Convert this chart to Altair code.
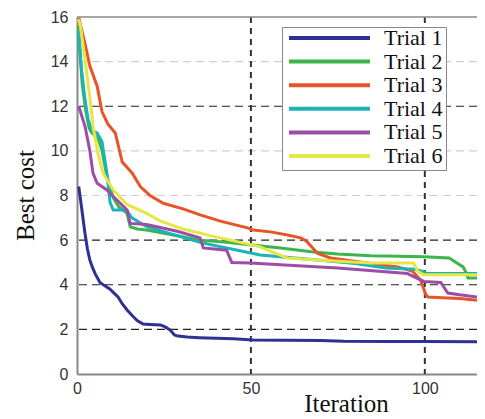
import altair as alt
import pandas as pd

# ---- data ----
trials = ["Trial 1", "Trial 2", "Trial 3", "Trial 4", "Trial 5", "Trial 6"]
colors = ["#2e3192", "#3cb64a", "#e8542a", "#1ab3b8", "#9c4ea6", "#e6e645"]

t1_x = [0.5, 1.2, 2.3, 3, 3.7, 4.4, 5.2, 6.6, 8, 9.5, 10.5, 11.8, 13, 14.4, 16, 17.3, 19, 21, 24, 25.5, 26.8, 28, 29, 31.7, 35, 40, 45, 50.7, 60, 70, 76.7, 90, 100, 115]
t1_y = [8.4, 7.6, 6.3, 5.6, 5.1, 4.8, 4.5, 4.1, 3.95, 3.8, 3.65, 3.45, 3.15, 2.87, 2.6, 2.4, 2.24, 2.22, 2.2, 2.1, 1.97, 1.75, 1.7, 1.66, 1.63, 1.6, 1.58, 1.52, 1.51, 1.5, 1.47, 1.46, 1.46, 1.45]

t2_x = [0.3, 1.5, 2.5, 3.5, 4.3, 6, 7.2, 8.6, 9.5, 10.4, 12, 14.4, 15.3, 17.3, 20, 28.8, 35.4, 43, 49, 58.5, 68, 74.9, 84.4, 99.7, 107, 109, 111, 112, 112.4, 115]
t2_y = [15.6, 13.0, 11.8, 11.0, 10.8, 10.6, 10.0, 8.85, 8.4, 7.9, 7.5, 7.2, 6.6, 6.5, 6.45, 6.2, 6.0, 5.9, 5.8, 5.65, 5.47, 5.38, 5.3, 5.25, 5.2, 5.0, 4.8, 4.5, 4.3, 4.3]

t3_x = [0.5, 2.3, 3.7, 5.8, 7.2, 8.9, 11, 13, 15.9, 18.2, 21, 24.8, 30.5, 35.4, 41.2, 49, 50.7, 55.6, 60.5, 64.3, 66, 69.2, 72.9, 82.4, 92.2, 96.5, 98.8, 100.3, 100.9, 105, 110, 115]
t3_y = [15.96, 14.8, 13.8, 12.9, 11.75, 11.2, 10.8, 9.5, 9.0, 8.4, 8.0, 7.65, 7.4, 7.13, 6.85, 6.55, 6.45, 6.37, 6.23, 6.1, 5.95, 5.4, 5.2, 5.0, 4.8, 4.6, 4.2, 3.55, 3.45, 3.42, 3.38, 3.3]

t4_x = [0.5, 1.2, 2.2, 3.2, 4.3, 5.8, 7.2, 8.6, 9.5, 10.4, 13.3, 14.4, 15.8, 20, 28.8, 35.4, 43, 52.7, 58.5, 70, 80, 88.8, 97, 99.5, 100.5, 115]
t4_y = [15.4, 13.8, 12.4, 11.4, 10.9, 10.8, 10.4, 9.0, 7.7, 7.35, 7.35, 7.3, 7.0, 6.6, 6.2, 5.9, 5.65, 5.33, 5.25, 5.1, 4.95, 4.75, 4.7, 4.6, 4.5, 4.5]

t5_x = [0.5, 2.3, 3.7, 4.6, 5.8, 8.6, 9.5, 14.4, 15.3, 20, 28.8, 35.4, 36.3, 43, 44.5, 49.9, 58.5, 74.9, 95, 99.7, 104.6, 106.6, 110, 115]
t5_y = [12.0, 11.1, 10.0, 9.0, 8.55, 8.25, 8.1, 7.35, 6.75, 6.7, 6.4, 6.1, 5.65, 5.55, 5.0, 4.97, 4.9, 4.75, 4.5, 4.15, 4.1, 3.63, 3.55, 3.45]

t6_x = [0.3, 0.9, 2.3, 3.7, 4.6, 6, 7.5, 10.4, 14.4, 20, 24, 30.5, 38.3, 47, 52.7, 55.6, 60.5, 70, 84.4, 96.8, 98, 99.7, 115]
t6_y = [15.9, 15.7, 14.1, 12.4, 11.1, 9.9, 9.0, 8.25, 7.6, 7.2, 6.85, 6.5, 6.2, 5.9, 5.7, 5.5, 5.2, 5.1, 4.97, 4.97, 4.6, 4.45, 4.45]

y_ticks = [0, 2, 4, 6, 8, 10, 12, 14, 16]
x_ticks = [0, 50, 100]
grid_dark_y = [2, 4, 6, 12]
grid_light_y = [8, 10, 14]
grid_x = [50, 100]
top_y = [16]

series = [(t1_x, t1_y), (t2_x, t2_y), (t3_x, t3_y), (t4_x, t4_y), (t5_x, t5_y), (t6_x, t6_y)]
rows = []
for k, (xs, ys) in enumerate(series):
    for i, (a, b) in enumerate(zip(xs, ys)):
        rows.append({"trial": trials[k], "order": k, "i": i, "iteration": a, "cost": b})
df = pd.DataFrame(rows)

xscale = alt.Scale(domain=[0, 115], nice=False, zero=False)
yscale = alt.Scale(domain=[0, 16], nice=False)

gdark = alt.Chart(pd.DataFrame({"v": grid_dark_y})).mark_rule(
    color="#222", strokeWidth=1.2, strokeDash=[8, 5]).encode(y=alt.Y("v:Q", scale=yscale))
glight = alt.Chart(pd.DataFrame({"v": grid_light_y})).mark_rule(
    color="#cfcfcf", strokeWidth=1.2, strokeDash=[8, 5]).encode(y=alt.Y("v:Q", scale=yscale))
gx = alt.Chart(pd.DataFrame({"v": grid_x})).mark_rule(
    color="#333", strokeWidth=2, strokeDash=[6, 5]).encode(x=alt.X("v:Q", scale=xscale))
top = alt.Chart(pd.DataFrame({"v": top_y})).mark_rule(
    color="#888", strokeWidth=1.5).encode(y=alt.Y("v:Q", scale=yscale))

lines = alt.Chart(df).mark_line(strokeWidth=3, clip=True).encode(
    x=alt.X("iteration:Q", scale=xscale,
            axis=alt.Axis(values=x_ticks, title="Iteration", grid=False, ticks=False,
                          labelFlush=False, labelPadding=6, domainColor="#888", domainWidth=2,
                          labelFont="Liberation Sans", labelFontSize=16, labelColor="#333",
                          titleFont="Liberation Serif", titleFontSize=25, titleFontWeight="normal",
                          titleColor="#111", titleBaseline="alphabetic", titleY=37, titleX=269)),
    y=alt.Y("cost:Q", scale=yscale,
            axis=alt.Axis(values=y_ticks, title="Best cost", grid=False, ticks=False,
                          labelFlush=False, labelPadding=9, domainColor="#888", domainWidth=2,
                          labelFont="Liberation Sans", labelFontSize=16, labelColor="#333",
                          titleFont="Liberation Serif", titleFontSize=25, titleFontWeight="normal",
                          titleColor="#111", titleBaseline="alphabetic", titleX=-44, titleY=178)),
    color=alt.Color("trial:N", scale=alt.Scale(domain=trials, range=colors),
                    legend=alt.Legend(title=None, orient="none", legendX=205, legendY=10,
                                      symbolType="stroke", symbolSize=6561, symbolStrokeWidth=4,
                                      symbolOffset=2, labelOffset=12, clipHeight=16, rowPadding=1.6,
                                      padding=3, strokeColor="#888", fillColor="white",
                                      labelFont="Liberation Serif",
                                      labelFontSize=22, labelColor="#111")),
    detail="order:O",
    order="i:Q",
)

chart = alt.layer(glight, gdark, gx, top, lines).properties(
    width=400, height=357,
    autosize=alt.AutoSizeParams(type="none"),
    padding={"left": 69, "top": 9, "right": 0, "bottom": 44},
).configure_view(stroke=None)

chart.save("out.html", embed_options={"renderer": "svg", "actions": False})
